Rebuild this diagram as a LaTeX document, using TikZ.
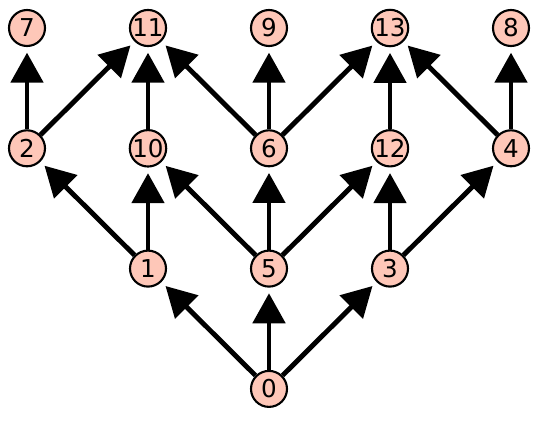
\documentclass[tikz,border=0pt]{standalone}
\usepackage{fontspec}
\setmainfont{DejaVu Sans}
\usetikzlibrary{arrows.meta}
\definecolor{vfill}{HTML}{FEC7B8}
\begin{document}
\begin{tikzpicture}[font=\fontsize{17.5}{20}\selectfont,
    vtx/.style ={circle, draw, line width=1.5pt, fill=vfill, minimum size=0.9cm, inner sep=0pt},
    edge/.style={line width=3.5pt, -{Triangle[length=0.75cm, width=0.8cm]}, shorten >=0.14cm},
  ]
  \useasboundingbox (0,0) rectangle (13.45,-10.5);
  % vertices: label / column / row
  \foreach \n/\i/\j in {7/0/0, 11/1/0, 9/2/0, 13/3/0, 8/4/0,
                        2/0/1, 10/1/1, 6/2/1, 12/3/1, 4/4/1,
                        1/1/2, 5/2/2, 3/3/2,
                        0/2/3}{
    \node[vtx] (v\n) at ({0.675+3.025*\i},{-0.7-3.0075*\j}) {\n};
  }
  % arcs
  \foreach \a/\b in {0/1, 0/5, 0/3,
                     1/2, 1/10, 5/10, 5/6, 5/12, 3/12, 3/4,
                     2/7, 2/11, 10/11, 6/11, 6/9, 6/13, 12/13, 4/13, 4/8}{
    \draw[edge] (v\a) -- (v\b);
  }
\end{tikzpicture}
\end{document}
